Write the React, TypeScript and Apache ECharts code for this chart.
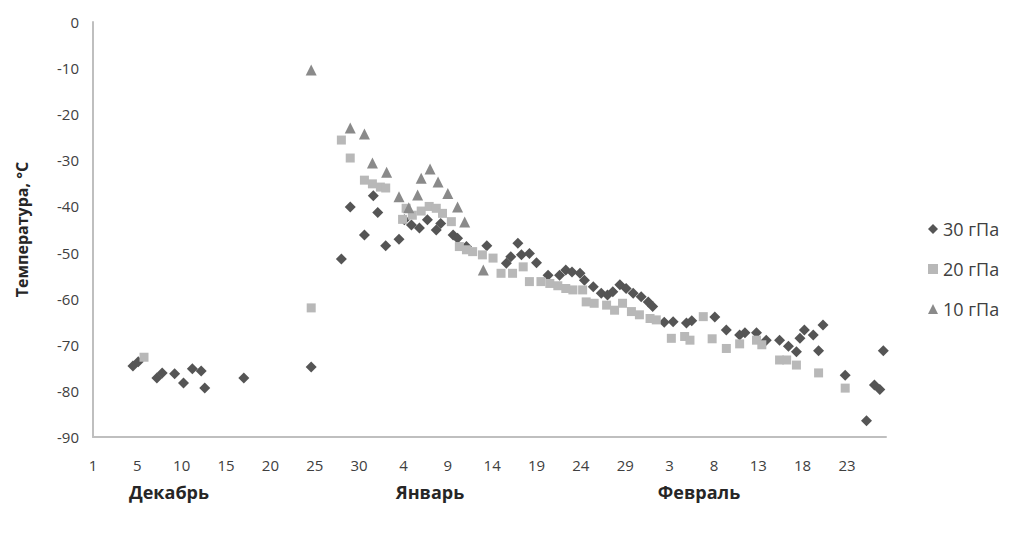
import React, { useEffect, useRef } from "react";
import * as echarts from "echarts";

// x = day index (Dec day number; Jan d = 31 + d; Feb d = 62 + d)
const xTickLabels = ["1", "5", "10", "15", "20", "25", "30", "4", "9", "14", "19", "24", "29", "3", "8", "13", "18", "23"];
const monthLabels = ["Декабрь", "Январь", "Февраль"];
const seriesNames = ["30 гПа", "20 гПа", "10 гПа"];

const s30: number[][] = [
  [4.5, -74.6], [5.1, -73.7], [7.2, -77.2], [7.8, -76.1], [9.2, -76.3], [10.2, -78.3],
  [11.2, -75.2], [12.2, -75.7], [12.6, -79.4], [17.0, -77.2], [24.6, -74.8],
  [28.0, -51.4], [29.0, -40.1], [30.6, -46.2], [31.6, -37.7], [32.1, -41.3], [33.0, -48.5],
  [34.5, -47.1], [35.1, -42.9], [35.9, -44.0], [36.8, -44.7], [37.7, -42.9], [38.7, -45.1],
  [39.2, -43.7], [40.6, -46.2], [41.1, -46.9], [42.1, -48.7], [44.4, -48.5], [46.6, -52.3],
  [47.1, -50.9], [47.9, -48.0], [48.3, -50.5], [49.2, -50.2], [50.0, -52.2], [51.3, -54.9],
  [52.6, -54.9], [53.3, -53.8], [54.0, -54.2], [54.9, -54.5], [55.4, -56.0], [56.4, -57.4],
  [57.3, -58.8], [58.0, -59.2], [58.6, -58.5], [59.4, -57.0], [60.1, -57.8], [60.9, -58.8],
  [61.8, -59.6], [62.6, -60.7], [63.1, -61.7], [64.4, -65.1], [65.4, -65.0], [66.9, -65.3],
  [67.5, -64.8], [70.1, -64.0], [71.4, -66.8], [72.9, -67.9], [73.5, -67.4], [74.8, -67.4],
  [75.9, -69.0], [77.4, -69.0], [78.4, -70.3], [79.3, -71.5], [79.7, -68.6], [80.2, -66.8],
  [81.2, -67.9], [81.8, -71.3], [82.3, -65.7], [84.8, -76.6], [87.2, -86.5], [88.1, -78.7],
  [88.7, -79.7], [89.1, -71.3]
];

const s20: number[][] = [
  [5.75, -72.7], [24.6, -62.0], [28.0, -25.6], [29.0, -29.5], [30.6, -34.3], [31.5, -35.1],
  [32.4, -35.8], [33.0, -36.0], [34.9, -42.8], [35.3, -40.4], [36.0, -41.9], [37.0, -41.0],
  [37.9, -40.0], [38.7, -40.4], [39.4, -41.5], [40.4, -43.3], [41.3, -48.7], [42.1, -49.4],
  [42.8, -49.8], [43.9, -50.5], [45.1, -51.2], [46.0, -54.5], [47.3, -54.5], [48.5, -53.1],
  [49.2, -56.3], [50.5, -56.3], [51.5, -56.7], [52.4, -57.2], [53.3, -57.8], [54.1, -58.1],
  [55.2, -58.1], [55.6, -60.7], [56.5, -61.0], [57.9, -61.4], [58.8, -62.5], [59.7, -61.0],
  [60.7, -62.8], [61.6, -63.5], [62.8, -64.3], [63.5, -64.6], [65.2, -68.6], [66.7, -68.2],
  [67.3, -69.0], [68.8, -63.9], [69.8, -68.7], [71.4, -70.8], [72.9, -69.8], [74.8, -69.0],
  [75.4, -70.0], [77.4, -73.3], [78.2, -73.3], [79.3, -74.4], [81.8, -76.1], [84.8, -79.4]
];

const s10: number[][] = [
  [24.6, -10.4], [29.0, -23.0], [30.6, -24.3], [31.5, -30.6], [33.1, -32.6], [34.5, -37.9],
  [35.6, -40.3], [36.6, -37.5], [37.0, -33.9], [38.0, -31.9], [38.9, -34.7], [40.0, -37.2],
  [41.1, -40.1], [41.9, -43.4], [44.0, -53.8]
];

const colors = ["#555555", "#b8b8b8", "#8a8a8a"];
const symbols = ["diamond", "rect", "triangle"];
const sizes = [11, 9, 11];

export default function App() {
  const ref = useRef<HTMLDivElement>(null);
  useEffect(() => {
    if (!ref.current) return;
    const chart = echarts.init(ref.current, undefined, { renderer: "svg" });
    const font = "'Open Sans', Lato, sans-serif";
    const data = [s30, s20, s10];
    const monthX = [161, 422, 691];
    chart.setOption({
      animation: false,
      backgroundColor: "#ffffff",
      textStyle: { fontFamily: font },
      grid: { left: 85, top: 14, width: 793, height: 415, containLabel: false, outerBoundsMode: "none" },
      xAxis: {
        type: "value",
        min: 0,
        max: 89.4,
        interval: 5,
        splitLine: { show: false },
        axisTick: { show: false },
        axisLine: { show: true, onZero: false, lineStyle: { color: "#bfbfbf", width: 2 } },
        axisLabel: {
          margin: 20,
          fontSize: 15,
          color: "#404040",
          fontFamily: font,
          showMaxLabel: false,
          formatter: (v: number) => {
            const k = Math.round(v / 5);
            return Math.abs(v - k * 5) < 1e-6 && k < xTickLabels.length ? xTickLabels[k] : "";
          }
        }
      },
      yAxis: {
        type: "value",
        min: -90,
        max: 0,
        interval: 10,
        name: "Температура, °С",
        nameLocation: "middle",
        nameGap: 63,
        nameTextStyle: { fontSize: 16, fontWeight: "bold", color: "#262626", fontFamily: font },
        splitLine: { show: false },
        axisTick: { show: false },
        axisLine: { show: true, lineStyle: { color: "#bfbfbf", width: 2 } },
        axisLabel: { margin: 14, fontSize: 15, color: "#404040", fontFamily: font }
      },
      legend: {
        orient: "vertical",
        left: 915,
        top: 207,
        itemGap: 22,
        itemWidth: 10,
        itemHeight: 10,
        textStyle: { fontSize: 18, color: "#404040", fontFamily: font },
        data: seriesNames.map((n, i) => ({ name: n, icon: symbols[i] }))
      },
      graphic: monthLabels.map((t, i) => ({
        type: "text",
        x: monthX[i],
        y: 484,
        style: {
          text: t,
          font: `bold 18px ${font}`,
          fill: "#262626",
          textAlign: "center",
          textVerticalAlign: "middle"
        }
      })),
      series: data.map((d, i) => ({
        name: seriesNames[i],
        type: "scatter",
        data: d,
        symbol: symbols[i],
        symbolSize: sizes[i],
        itemStyle: { color: colors[i], opacity: 1 }
      }))
    });
    return () => chart.dispose();
  }, []);
  return <div ref={ref} style={{ width: 1007, height: 523 }} />;
}
